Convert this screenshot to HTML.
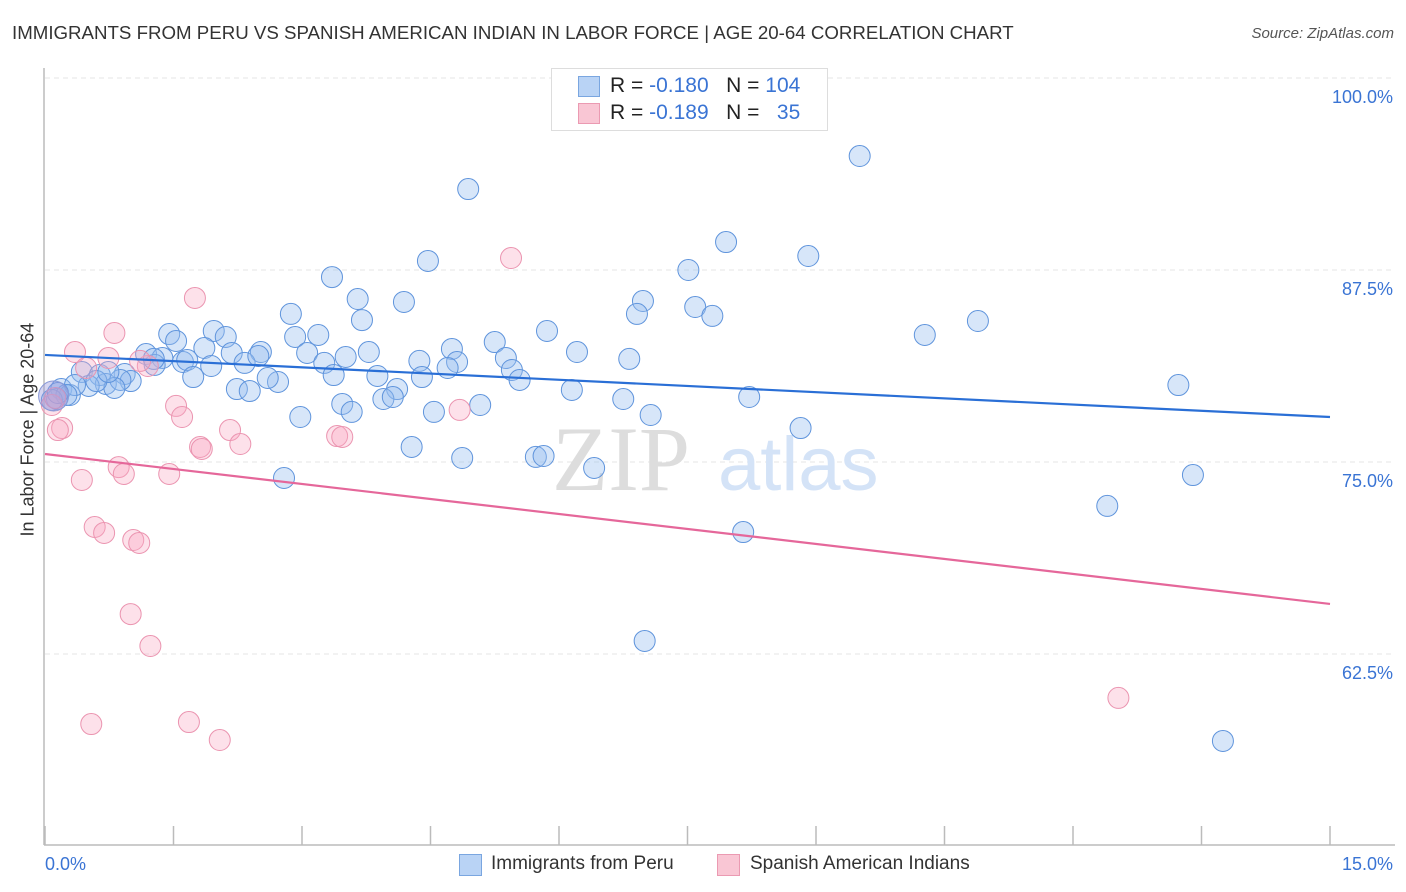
<!DOCTYPE html>
<html><head><meta charset="utf-8"><style>
body{margin:0;background:#fff;font-family:"Liberation Sans",sans-serif;}
#wrap{position:relative;width:1406px;height:892px;overflow:hidden;}
.t{position:absolute;white-space:nowrap;}
</style></head><body>
<div id="wrap">
<div class="t" style="left:12px;top:22px;font-size:18.7px;color:#333;">IMMIGRANTS FROM PERU VS SPANISH AMERICAN INDIAN IN LABOR FORCE | AGE 20-64 CORRELATION CHART</div>
<div class="t" style="right:12px;top:25px;font-size:15px;color:#555;font-style:italic;">Source: ZipAtlas.com</div>
<div class="t" style="left:-52px;top:446px;font-size:18px;color:#333;transform:rotate(-90deg);transform-origin:center;width:160px;text-align:center;">In Labor Force | Age 20-64</div>
<svg id="plot" width="1406" height="892" style="position:absolute;left:0;top:0"></svg>
<div style="position:absolute;left:551px;top:68px;width:275px;height:61px;border:1px solid #ddd;background:#fff;"></div>
<div style="position:absolute;left:578px;top:76px;width:20px;height:19px;background:#b9d3f5;border:1px solid #7aa6e0;"></div>
<div style="position:absolute;left:578px;top:103px;width:20px;height:19px;background:#f9c6d4;border:1px solid #eb9ab2;"></div>
<div class="t" style="left:610px;top:74px;font-size:21px;color:#222;">R = <span style="color:#3a74d4">-0.180</span>&nbsp;&nbsp;&nbsp;N = <span style="color:#3a74d4">104</span></div>
<div class="t" style="left:610px;top:101px;font-size:21px;color:#222;">R = <span style="color:#3a74d4">-0.189</span>&nbsp;&nbsp;&nbsp;N = <span style="color:#3a74d4">&nbsp;&nbsp;35</span></div>
<div style="position:absolute;left:459px;top:854px;width:21px;height:20px;background:#b9d3f5;border:1px solid #7aa6e0;"></div>
<div class="t" style="left:491px;top:853px;font-size:19px;color:#333;">Immigrants from Peru</div>
<div style="position:absolute;left:717px;top:854px;width:21px;height:20px;background:#f9c6d4;border:1px solid #eb9ab2;"></div>
<div class="t" style="left:750px;top:853px;font-size:19px;color:#333;">Spanish American Indians</div>
</div>
<script>
const blueX=[9.51,4.94,7.95,8.91,4.47,7.51,3.35,3.65,4.19,6.98,2.87,6.91,3.70,7.59,7.79,10.89,10.27,5.86,1.45,1.97,2.92,3.19,1.53,2.11,5.25,6.21,6.82,4.75,1.18,1.86,2.18,2.52,3.06,3.51,3.78,4.37,4.81,5.38,1.37,1.61,1.66,1.28,1.94,2.33,2.49,4.70,5.45,3.26,13.23,0.43,0.64,0.93,1.73,1.00,2.72,2.60,3.37,3.88,4.40,5.54,6.15,6.75,8.22,2.24,2.39,4.11,0.71,0.88,0.51,0.81,0.19,0.29,0.14,3.47,3.95,4.06,5.08,4.54,2.98,3.58,7.07,8.82,4.28,4.87,5.73,5.82,6.41,2.79,13.40,12.40,8.15,7.00,13.75,0.35,0.25,0.08,0.15,0.60,0.74,1.27];
const blueY=[94.92,92.77,89.32,88.41,88.09,87.50,87.04,85.61,85.42,85.48,84.64,84.64,84.24,85.09,84.51,84.18,83.27,83.53,83.33,83.53,83.14,83.27,82.88,83.14,82.81,82.16,81.71,82.36,82.03,82.42,82.10,82.16,82.10,81.84,82.16,81.58,81.51,81.77,81.77,81.51,81.64,81.32,81.25,81.45,81.90,81.12,80.99,81.45,80.01,80.86,80.66,80.73,80.53,80.27,80.21,80.47,80.66,80.60,80.53,80.34,79.69,79.10,79.23,79.75,79.62,79.75,80.08,80.34,79.95,79.82,79.75,79.36,79.10,78.78,79.10,79.23,78.71,78.26,77.93,78.26,78.06,77.21,75.98,75.26,75.33,75.39,74.61,73.96,74.15,72.14,70.44,63.35,56.84,80.01,79.36,79.04,79.49,80.27,80.86,81.71];
const pinkX=[1.75,5.44,0.81,0.35,0.74,0.48,1.20,1.53,1.60,2.16,1.81,1.83,2.28,3.41,3.47,4.84,0.20,0.15,0.86,0.92,1.45,0.43,0.58,0.69,1.03,1.10,1.00,1.23,0.54,1.68,2.04,12.53,0.08,0.12,1.11];
const pinkY=[85.68,88.28,83.40,82.16,81.77,81.12,81.25,78.65,77.93,77.08,75.98,75.85,76.17,76.69,76.63,78.39,77.21,77.08,74.67,74.22,74.22,73.83,70.77,70.38,69.92,69.73,65.10,63.02,57.94,58.07,56.90,59.64,78.71,79.17,81.58];
const blueTrend=[81.97,77.93];
const pinkTrend=[75.52,65.76];
const yTicks=[100,87.5,75,62.5];
const yTickLabels=["100.0%","87.5%","75.0%","62.5%"];
const xTicks=[0,1.5,3,4.5,6,7.5,9,10.5,12,13.5,15];

const X0=45,X1=1330,XMAX=15;
const sx=v=>X0+v/XMAX*(X1-X0);
const sy=v=>78+(100-v)/12.5*192;
const NS="http://www.w3.org/2000/svg";
const svg=document.getElementById('plot');
function mk(tag,attrs){const e=document.createElementNS(NS,tag);for(const k in attrs)e.setAttribute(k,attrs[k]);svg.appendChild(e);return e;}

yTicks.forEach((v,i)=>{
  const g=mk('line',{x1:45,x2:1395,y1:sy(v),y2:sy(v),stroke:'#e4e4e4','stroke-dasharray':'5,4','stroke-width':1});
  
  
  const t=mk('text',{x:1393,y:sy(v)+25,'text-anchor':'end','font-size':18,fill:'#3a74d4','font-family':'Liberation Sans, sans-serif'});
  t.textContent=yTickLabels[i];
  
  
});
const ax=mk('line',{x1:44,x2:1395,y1:845,y2:845,stroke:'#bbb','stroke-width':1.5});


const ay=mk('line',{x1:44,x2:44,y1:68,y2:845,stroke:'#bbb','stroke-width':1.5});


xTicks.forEach(v=>{
  const t=mk('line',{x1:sx(v),x2:sx(v),y1:826,y2:845,stroke:'#bbb','stroke-width':1.5});
  
  
});
[[0,'0.0%',45,'start'],[15,'15.0%',1393,'end']].forEach(a=>{
  const t=mk('text',{x:a[2],y:870,'text-anchor':a[3],'font-size':18,fill:'#3a74d4','font-family':'Liberation Sans, sans-serif'});
  t.textContent=a[1];
  
  
});
const w1=mk('text',{x:552,y:490,'font-size':92,fill:'#ddd','font-family':'Liberation Serif, serif'});
w1.textContent='ZIP';


const w2=mk('text',{x:718,y:490,'font-size':76,fill:'#d4e3f7','font-family':'Liberation Sans, sans-serif'});
w2.textContent='atlas';



blueX.forEach((x,i)=>{
  const c=mk('circle',{cx:sx(x),cy:sy(blueY[i]),r:10.5,fill:'rgba(150,188,238,0.38)',stroke:'#5f94dc','stroke-width':1});
  
  
});
pinkX.forEach((x,i)=>{
  const c=mk('circle',{cx:sx(x),cy:sy(pinkY[i]),r:10.5,fill:'rgba(248,170,195,0.35)',stroke:'#eb94b0','stroke-width':1});
  
  
});
const big=mk('circle',{cx:sx(0.1),cy:sy(79.3),r:15,fill:'rgba(150,150,220,0.4)',stroke:'#8a9ad8','stroke-width':1});


const bl=mk('line',{x1:sx(0),x2:sx(15),y1:sy(blueTrend[0]),y2:sy(blueTrend[1]),stroke:'#2a6fd6','stroke-width':2.2});


const pl=mk('line',{x1:sx(0),x2:sx(15),y1:sy(pinkTrend[0]),y2:sy(pinkTrend[1]),stroke:'#e5679a','stroke-width':2.2});


</script>
</body></html>
